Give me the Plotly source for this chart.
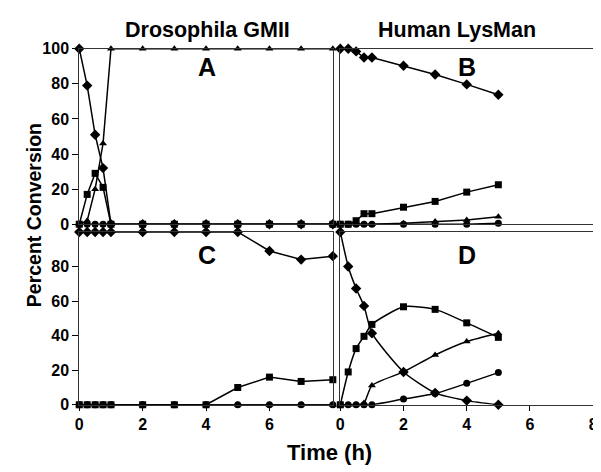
import plotly.graph_objects as go

# ---- data ----
t_left = [0, 0.25, 0.5, 0.75, 1, 2, 3, 4, 5, 6, 7, 8]
t_right = [0, 0.25, 0.5, 0.75, 1, 2, 3, 4, 5]

A_diamond = [100, 79, 51, 32, 0, 0, 0, 0, 0, 0, 0, 0]
A_square = [0, 17, 29, 21, 0, 0, 0, 0, 0, 0, 0, 0]
A_triangle = [0, 2, 20, 46, 100, 100, 100, 100, 100, 100, 100, 100]
A_circle = [0, 0, 0, 0, 0, 0, 0, 0, 0, 0, 0, 0]

B_diamond = [100, 100, 98.5, 95, 95, 90.3, 85.3, 79.7, 73.8]
B_square = [0, 0, 2, 6, 6, 9.7, 13, 18.3, 22.5]
B_triangle = [0, 0, 0, 0, 0, 0.5, 1.5, 2.4, 4.2]
B_circle = [0, 0, 0, 0, 0, 0, 0, 0, 0.5]

C_diamond = [100, 100, 100, 100, 100, 100, 100, 100, 100, 89, 84, 86]
C_square = [0, 0, 0, 0, 0, 0, 0, 0, 10, 16, 13.5, 14.5]
C_triangle = [0, 0, 0, 0, 0, 0, 0, 0, 0, 0, 0, 0]
C_circle = [0, 0, 0, 0, 0, 0, 0, 0, 0, 0, 0, 0]

D_diamond = [100, 80, 67.3, 57.2, 41.4, 19, 6.9, 2.4, 0]
D_square = [0, 19, 32.5, 39.6, 46.5, 56.7, 55.2, 47.4, 39]
D_triangle = [0, 0, 0, 1, 11.2, 19, 28.8, 36.6, 41.4]
D_circle = [0, 0, 0, 0, 0, 3.3, 6.5, 12.4, 18.6]

col_titles = ["Drosophila GMII", "Human LysMan"]
panel_letters = ["A", "B", "C", "D"]
y_ticks_top = [0, 20, 40, 60, 80, 100]
y_ticks_bottom = [0, 20, 40, 60, 80]
x_ticks_left = [0, 2, 4, 6]
x_ticks_right = [0, 2, 4, 6, 8]

FONT = "Liberation Sans"
fig = go.Figure()

symbols = [("diamond", 8), ("square", 7), ("triangle-up", 7), ("circle", 7)]
panels = [
    ("x", "y", t_left, [A_diamond, A_square, A_triangle, A_circle], "linear"),
    ("x2", "y2", t_right, [B_diamond, B_square, B_triangle, B_circle], "linear"),
    ("x3", "y3", t_left, [C_diamond, C_square, C_triangle, C_circle], "linear"),
    ("x4", "y4", t_right, [D_diamond, D_square, D_triangle, D_circle], "spline"),
]
for xa, ya, tt, series, shape in panels:
    for (sym, sz), vals in zip(symbols, series):
        fig.add_trace(go.Scatter(
            x=tt, y=vals, xaxis=xa, yaxis=ya, mode="lines+markers",
            line=dict(color="black", width=1.5, shape=shape, smoothing=0.6),
            marker=dict(symbol=sym, size=sz, color="black"),
            cliponaxis=False, showlegend=False))

xl = [68.3 / 601, 325.7 / 601]
xr = [333.3 / 601, 590 / 601]
yt = [(472 - 216) / 472, (472 - 34) / 472]
yb = [(472 - 403.3) / 472, (472 - 224) / 472]

tickfont = dict(family=FONT, size=16, color="black")

def bold(vals):
    return ["<b>%d</b>" % v for v in vals]

def xax(dom, anchor, tickvals, show):
    return dict(domain=dom, anchor=anchor, range=[0, 8], showgrid=False, zeroline=False,
                showline=True, mirror=True, linecolor="#333", linewidth=1,
                tickvals=tickvals if show else [], ticktext=bold(tickvals) if show else [],
                ticks="outside" if show else "",
                ticklen=5, tickcolor="black", tickfont=tickfont, showticklabels=show)

def yax(dom, anchor, tickvals, show):
    return dict(domain=dom, anchor=anchor, range=[0, 100], showgrid=False, zeroline=False,
                showline=True, mirror=True, linecolor="#333", linewidth=1,
                tickvals=tickvals if show else [], ticktext=bold(tickvals) if show else [],
                ticks="outside" if show else "",
                ticklen=6, tickcolor="black", tickfont=tickfont, showticklabels=show)

fig.update_layout(
    width=601, height=472, margin=dict(l=0, r=0, t=0, b=0),
    paper_bgcolor="white", plot_bgcolor="white",
    xaxis=xax(xl, "y", [], False),
    yaxis=yax(yt, "x", y_ticks_top, True),
    xaxis2=xax(xr, "y2", [], False),
    yaxis2=yax(yt, "x2", [], False),
    xaxis3=xax(xl, "y3", x_ticks_left, True),
    yaxis3=yax(yb, "x3", y_ticks_bottom, True),
    xaxis4=xax(xr, "y4", x_ticks_right, True),
    yaxis4=yax(yb, "x4", [], False),
)

ann = []
for txt, px in zip(col_titles, [198, 452]):
    ann.append(dict(text="<b>" + txt + "</b>", x=px / 601, y=1 - 15 / 472, xref="paper", yref="paper",
                    showarrow=False, xanchor="center", yanchor="middle",
                    font=dict(family=FONT, size=21.5, color="black")))
letter_pos = [(198, 53), (462, 53), (198, 248), (462, 248)]
for lt, (px, py) in zip(panel_letters, letter_pos):
    ann.append(dict(text="<b>" + lt + "</b>", x=px / 601, y=1 - py / 472, xref="paper", yref="paper",
                    showarrow=False, xanchor="center", yanchor="middle",
                    font=dict(family=FONT, size=25, color="black")))
ann.append(dict(text="<b>Percent Conversion</b>", x=22 / 601, y=1 - 207 / 472, xref="paper", yref="paper",
                showarrow=False, textangle=-90, xanchor="center", yanchor="middle",
                font=dict(family=FONT, size=19.5, color="black")))
ann.append(dict(text="<b>Time (h)</b>", x=322 / 601, y=1 - 453 / 472, xref="paper", yref="paper",
                showarrow=False, xanchor="center", yanchor="middle",
                font=dict(family=FONT, size=22, color="black")))
fig.update_layout(annotations=ann)

fig.write_html("out.html")
